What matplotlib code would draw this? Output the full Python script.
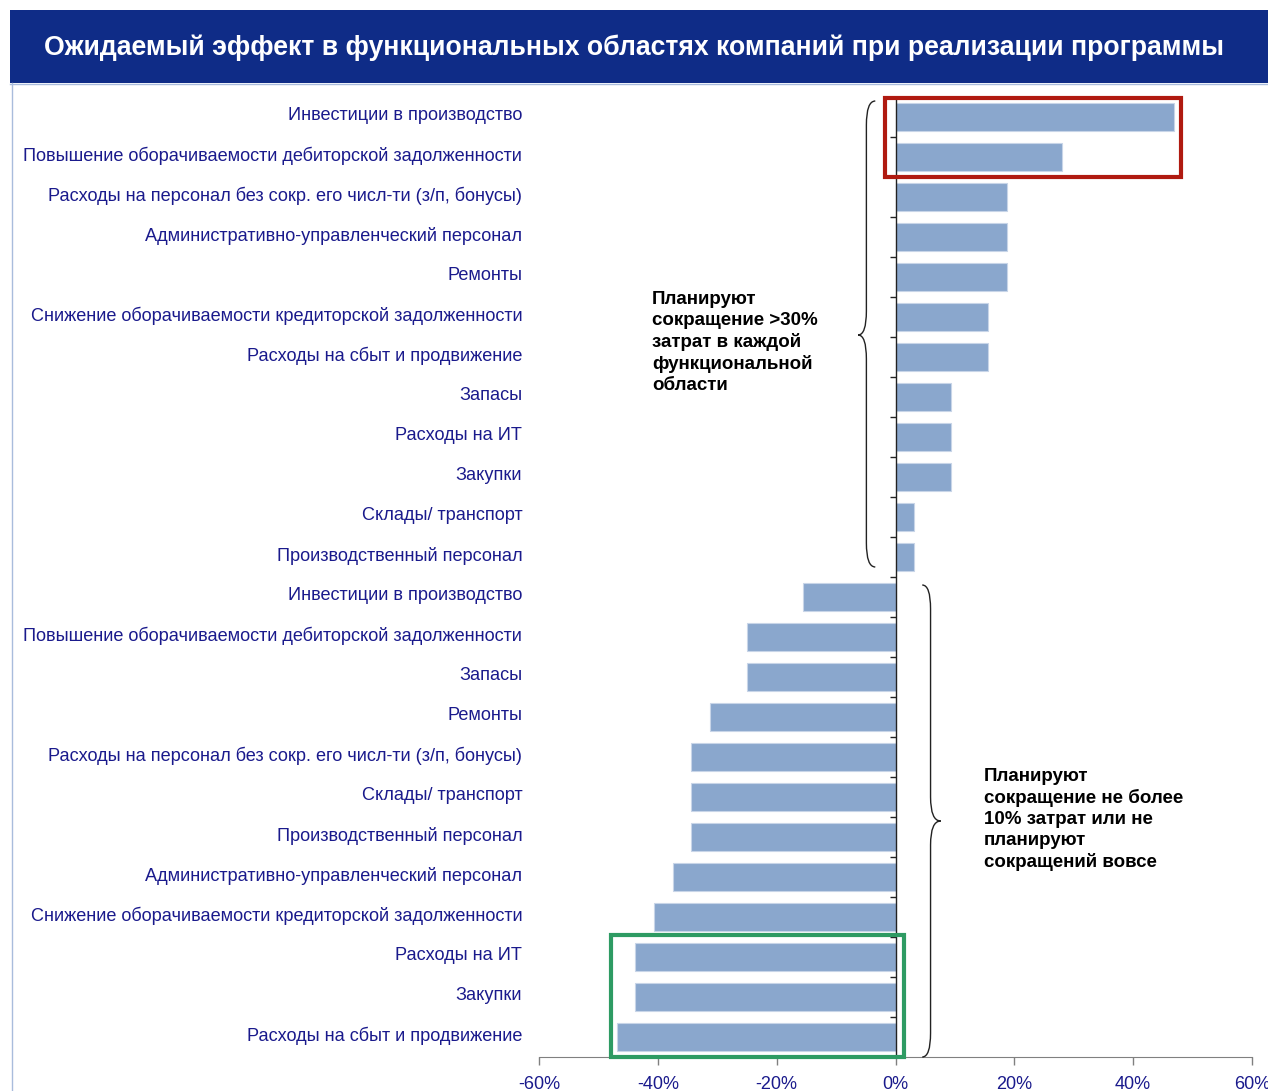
import numpy as np
import matplotlib
matplotlib.use("Agg")
import matplotlib.pyplot as plt
import matplotlib.transforms as mtransforms
from matplotlib.patches import Rectangle, PathPatch
from matplotlib.path import Path

plt.rcParams['font.family'] = ['Liberation Sans', 'DejaVu Sans']

# --- data (share of companies, %) ---
labels_top = [
    "Инвестиции в производство",
    "Повышение оборачиваемости дебиторской задолженности",
    "Расходы на персонал без сокр. его числ-ти (з/п, бонусы)",
    "Административно-управленческий персонал",
    "Ремонты",
    "Снижение оборачиваемости кредиторской задолженности",
    "Расходы на сбыт и продвижение",
    "Запасы",
    "Расходы на ИТ",
    "Закупки",
    "Склады/ транспорт",
    "Производственный персонал",
]
values_top = [46.9, 28.1, 18.8, 18.8, 18.8, 15.6, 15.6, 9.4, 9.4, 9.4, 3.1, 3.1]

labels_bottom = [
    "Инвестиции в производство",
    "Повышение оборачиваемости дебиторской задолженности",
    "Запасы",
    "Ремонты",
    "Расходы на персонал без сокр. его числ-ти (з/п, бонусы)",
    "Склады/ транспорт",
    "Производственный персонал",
    "Административно-управленческий персонал",
    "Снижение оборачиваемости кредиторской задолженности",
    "Расходы на ИТ",
    "Закупки",
    "Расходы на сбыт и продвижение",
]
values_bottom = [-15.6, -25.0, -25.0, -31.3, -34.4, -34.4, -34.4, -37.5, -40.6, -43.8, -43.8, -46.9]

xticks = [-60, -40, -20, 0, 20, 40, 60]
xtick_labels = ["-60%", "-40%", "-20%", "0%", "20%", "40%", "60%"]

title = "Ожидаемый эффект в функциональных областях компаний при реализации программы"
note_top = "Планируют\nсокращение >30%\nзатрат в каждой\nфункциональной\nобласти"
note_bottom = "Планируют\nсокращение не более\n10% затрат или не\nпланируют\nсокращений вовсе"

labels = labels_top + labels_bottom
values = values_top + values_bottom

navy = "#1A1A8C"
bar_color = "#8AA7CD"

W, H = 1268, 1091
fig = plt.figure(figsize=(W / 100, H / 100), dpi=100)
ax = fig.add_axes([539 / W, 1 - 1057 / H, (1252 - 539) / W, (1057 - 97) / H])

y = np.arange(len(labels))
ax.barh(y, values, height=0.68, color=bar_color, edgecolor="#C8D5E8", linewidth=0.8, zorder=2)

ax.set_xlim(-60, 60)
ax.set_ylim(len(labels) - 0.5, -0.5)

ax.set_yticks(y)
ax.set_yticklabels(labels, fontsize=13.05, color=navy)
ax.tick_params(axis="y", length=0, pad=12)
shift = mtransforms.ScaledTranslation(0, 3 / 100, fig.dpi_scale_trans)
for lbl in ax.get_yticklabels():
    lbl.set_transform(lbl.get_transform() + shift)

ax.set_xticks(xticks)
ax.set_xticklabels(xtick_labels, fontsize=13, color=navy)
ax.tick_params(axis="x", length=6, width=1, color="#808080", pad=8)

for s in ["top", "right", "left"]:
    ax.spines[s].set_visible(False)
ax.spines["bottom"].set_color("#808080")

# zero line with small ticks between categories
ax.axvline(0, color="#222222", linewidth=1, zorder=3)
bounds = np.arange(len(labels) + 1) - 0.5
ax.hlines(bounds, -0.9, 0, color="#222222", linewidth=1, zorder=3, clip_on=False)

# highlight boxes
ax.add_patch(Rectangle((-1.7, -0.47), 49.8, 1.97, fill=False, edgecolor="#B01A10",
                       linewidth=3, zorder=4, clip_on=False))
ax.add_patch(Rectangle((-47.8, 20.45), 49.2, 3.05, fill=False, edgecolor="#2E9B63",
                       linewidth=3, zorder=4, clip_on=False))


def brace(x_end, x_spine, x_tip, y0, ym, y1, d=0.6):
    verts = [(x_end, y0), (x_spine, y0), (x_spine, y0 + d),
             (x_spine, ym - d),
             (x_spine, ym), (x_tip, ym),
             (x_spine, ym), (x_spine, ym + d),
             (x_spine, y1 - d),
             (x_spine, y1), (x_end, y1)]
    codes = [Path.MOVETO, Path.CURVE3, Path.CURVE3, Path.LINETO,
             Path.CURVE3, Path.CURVE3, Path.CURVE3, Path.CURVE3,
             Path.LINETO, Path.CURVE3, Path.CURVE3]
    return PathPatch(Path(verts, codes), fill=False, edgecolor="#222222",
                     linewidth=1, clip_on=False, zorder=3)


ax.add_patch(brace(-3.4, -4.9, -6.3, -0.4, 5.45, 11.25))
ax.add_patch(brace(4.5, 5.9, 7.6, 11.7, 17.6, 23.5))

# notes
fig.text(652 / W, 1 - 291 / H, note_top, fontsize=13.5, fontweight="bold",
         color="black", va="top", ha="left", linespacing=1.3)
fig.text(984 / W, 1 - 768 / H, note_bottom, fontsize=13.5, fontweight="bold",
         color="black", va="top", ha="left", linespacing=1.3)

# title band
fig.patches.append(Rectangle((10 / W, 1 - 83 / H), 1 - 10 / W, 73 / H,
                             transform=fig.transFigure, facecolor="#0F2C87",
                             edgecolor="none", zorder=0))
fig.text(634 / W, 1 - 48 / H, title, fontsize=19.2, fontweight="bold",
         color="white", ha="center", va="center")
fig.lines.append(plt.Line2D([12 / W, 12 / W], [0, 1 - 83 / H], transform=fig.transFigure,
                            color="#A9BCDC", linewidth=1))
fig.lines.append(plt.Line2D([10 / W, 1], [1 - 84 / H, 1 - 84 / H], transform=fig.transFigure,
                            color="#A9BCDC", linewidth=1))

fig.savefig("out.png", dpi=100)
